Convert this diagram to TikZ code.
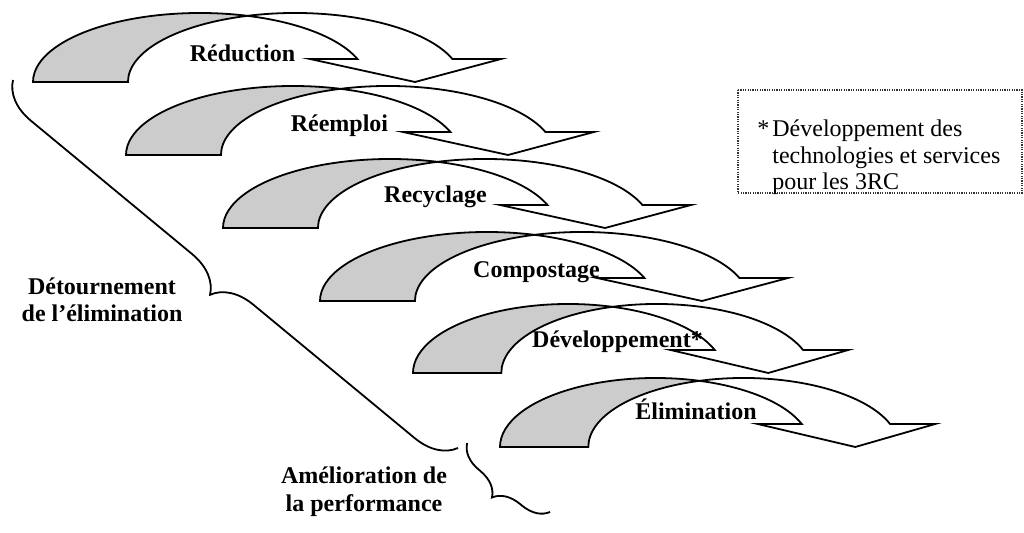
\documentclass[tikz,border=0pt]{standalone}
\usepackage{fontspec}
\setmainfont{Liberation Serif}
\usetikzlibrary{decorations.pathreplacing}
\tikzset{
  outl/.style={draw=black, line width=0.9pt, line join=miter},
  backface/.style={outl, fill=gray!40},
  frontface/.style={outl, fill=white},
  lbl/.style={font=\fontsize{12pt}{13.8pt}\selectfont\bfseries, inner sep=0pt, anchor=base},
  note/.style={font=\fontsize{12pt}{13.8pt}\selectfont, inner sep=0pt, anchor=base west},
  bracepath/.style={draw=black, line width=0.9pt, decorate},
  notebox/.style={draw=black!80, line width=0.6pt, dash pattern=on 0.6pt off 0.6pt},
}
\newcommand\mycurvedarrow[3]{%
  \begin{scope}[shift={(#1,#2)}, xscale=#3]
    \path[backface] (0,0)
      arc[start angle=180, end angle=73.48, x radius=167, y radius=69]
      arc[start angle=106.52, end angle=180, x radius=167, y radius=69] -- cycle;
    \path[frontface] (214.5,66.15)
      arc[start angle=106.52, end angle=19.47, x radius=167, y radius=69]
      -- (468,23) -- (382,0) -- (277,23) -- (324.45,23)
      arc[start angle=19.47, end angle=73.48, x radius=167, y radius=69] -- cycle;
  \end{scope}}
\begin{document}
\begin{tikzpicture}[x=0.5pt, y=0.5pt]
\useasboundingbox (0,0) rectangle (1024,533);
% arrows (image y converted: Y = 533 - y)
\mycurvedarrow{33}{451}{1}
\mycurvedarrow{126}{378}{1}
\mycurvedarrow{223}{305}{1}
\mycurvedarrow{320}{232}{1}
\mycurvedarrow{413}{160}{0.93}
\mycurvedarrow{500}{86}{0.93}
% labels
\node[lbl] (red) at (242.5,471) {Réduction};
\node[lbl] (ree) at (339.5,401) {Réemploi};
\node[lbl] (rec) at (435.5,330) {Recyclage};
\node[lbl] (com) at (536.5,255) {Compostage};
\node[lbl] (dev) at (617.5,185) {Développement*};
\node[lbl] (eli) at (696,113) {Élimination};
% braces
\coordinate (b1s) at (458,85);
\coordinate (b1e) at (13,453);
\coordinate (b2s) at (550,21);
\coordinate (b2e) at (467,90);
\draw[bracepath, decoration={brace, amplitude=20pt}] (b1s) -- (b1e);
\draw[bracepath, decoration={brace, amplitude=13pt}] (b2s) -- (b2e);
\node[lbl] (det1) at (102,238) {Détournement};
\node[lbl] (det2) at (102,211) {de l’élimination};
\node[lbl] (ame1) at (364,49) {Amélioration de};
\node[lbl] (ame2) at (364,21) {la performance};
% note box
\draw[notebox] (738,443) rectangle (1022,340);
\node[note] (star) at (757,396) {*};
\node[note] (n1) at (772,396) {Développement des};
\node[note] (n2) at (772,369.5) {technologies et services};
\node[note] (n3) at (772,343) {pour les 3RC};
\end{tikzpicture}
\end{document}
